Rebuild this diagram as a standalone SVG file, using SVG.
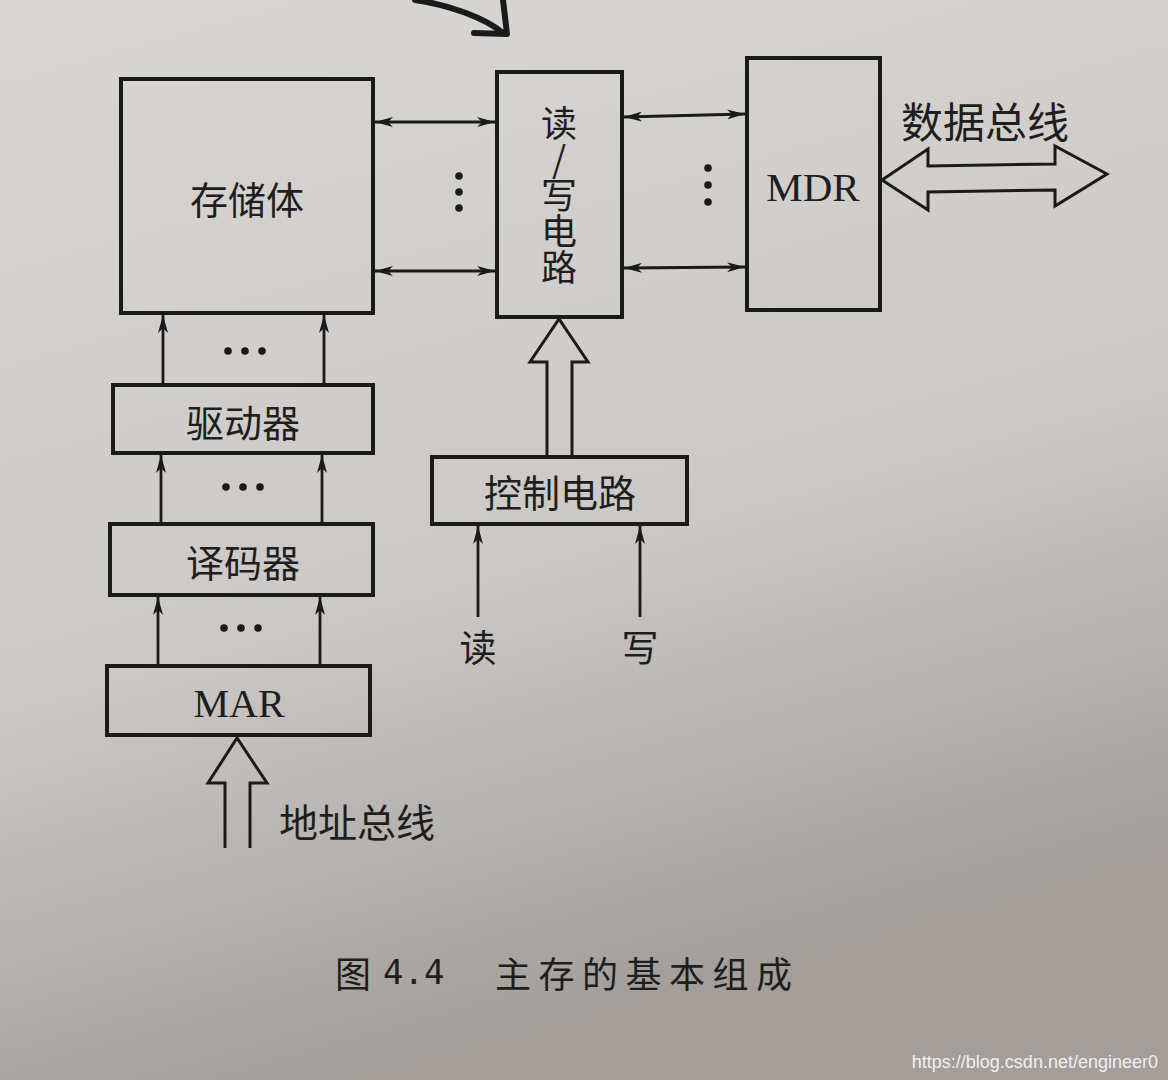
<svg xmlns="http://www.w3.org/2000/svg" width="1168" height="1080" viewBox="0 0 1168 1080">
<defs>
<linearGradient id="bg" x1="0" y1="0" x2="0.3" y2="1">
<stop offset="0" stop-color="#d9d7d4"/>
<stop offset="0.6" stop-color="#cbc8c5"/>
<stop offset="1" stop-color="#a39e9a"/>
</linearGradient>
<marker id="ah" viewBox="0 0 18 10" refX="18" refY="5" markerWidth="18" markerHeight="10" markerUnits="userSpaceOnUse" orient="auto-start-reverse">
<path d="M0,0 L18,5 L0,10 L5,5 Z" fill="#1a1a1a"/>
</marker>
<style>
.box{fill:none;stroke:#1a1a1a;stroke-width:4}
.ln{fill:none;stroke:#1a1a1a;stroke-width:2.8}
.hollow{fill:none;stroke:#1a1a1a;stroke-width:3;stroke-linejoin:miter}
.cn{font-family:"Noto Sans CJK SC","Noto Sans",sans-serif;fill:#1e1e1e;text-anchor:middle;dominant-baseline:central}
.lat{font-family:"Liberation Serif",serif;fill:#1e1e1e;text-anchor:middle;dominant-baseline:central}
.vert{writing-mode:vertical-rl;text-orientation:upright;text-anchor:start}
.dot{fill:#1a1a1a}
</style>
</defs>
<rect width="1168" height="1080" fill="url(#bg)"/>
<path d="M415,0 C450,5 485,18 503,33 M474,33 L507,34 L503,0" fill="none" stroke="#1a1a1a" stroke-width="6" stroke-linecap="round" stroke-linejoin="round"/>

<g id="memory">
<rect class="box" x="121" y="79" width="252" height="234"/>
<text class="cn" x="247" y="197" font-size="38">存储体</text>
</g>
<g id="rw">
<rect class="box" x="497" y="72" width="125" height="245"/>
<text class="cn vert" x="559" y="105" font-size="36">读/写电路</text>
</g>
<g id="mdr">
<rect class="box" x="747" y="58" width="133" height="252"/>
<text class="lat" x="813" y="187" font-size="41">MDR</text>
</g>
<g id="driver">
<rect class="box" x="113" y="385" width="260" height="68"/>
<text class="cn" x="243" y="420" font-size="38">驱动器</text>
</g>
<g id="decoder">
<rect class="box" x="110" y="524" width="263" height="71"/>
<text class="cn" x="243" y="560" font-size="38">译码器</text>
</g>
<g id="mar">
<rect class="box" x="107" y="666" width="263" height="69"/>
<text class="lat" x="239" y="703" font-size="40">MAR</text>
</g>
<g id="control">
<rect class="box" x="432" y="457" width="255" height="67"/>
<text class="cn" x="560" y="490" font-size="38">控制电路</text>
</g>
<g id="labels">
<text class="cn" x="985" y="119" font-size="42">数据总线</text>
<text class="cn" x="357" y="820" font-size="39">地址总线</text>
<text class="cn" x="478" y="646" font-size="37">读</text>
<text class="cn" x="640" y="646" font-size="37">写</text>
<text class="cn" x="335" y="972" font-size="36" style="text-anchor:start">图</text>
<text x="383" y="972" font-size="34" style="font-family:'DejaVu Sans Mono','Liberation Mono',monospace;fill:#1e1e1e;dominant-baseline:central">4.4</text>
<text class="cn" x="495" y="972" font-size="36" letter-spacing="7.5" style="text-anchor:start">主存的基本组成</text>
<text x="1158" y="1062" font-size="18" style="font-family:'Liberation Sans',Arial,sans-serif;fill:#f2f0ee;dominant-baseline:central;text-anchor:end">https://blog.csdn.net/engineer0</text>
</g>

<g id="connectors">
<line class="ln" x1="375" y1="122" x2="495" y2="122" marker-start="url(#ah)" marker-end="url(#ah)"/>
<line class="ln" x1="375" y1="271" x2="495" y2="271" marker-start="url(#ah)" marker-end="url(#ah)"/>
<line class="ln" x1="624" y1="117" x2="745" y2="114" marker-start="url(#ah)" marker-end="url(#ah)"/>
<line class="ln" x1="624" y1="268" x2="745" y2="267" marker-start="url(#ah)" marker-end="url(#ah)"/>
<circle class="dot" cx="459" cy="176" r="3.8"/><circle class="dot" cx="459" cy="192" r="3.8"/><circle class="dot" cx="459" cy="208" r="3.8"/>
<circle class="dot" cx="708" cy="168" r="3.8"/><circle class="dot" cx="708" cy="185" r="3.8"/><circle class="dot" cx="708" cy="202" r="3.8"/>

<line class="ln" x1="163" y1="385" x2="163" y2="315" marker-end="url(#ah)"/>
<line class="ln" x1="324" y1="385" x2="324" y2="315" marker-end="url(#ah)"/>
<circle class="dot" cx="228" cy="351" r="3.8"/><circle class="dot" cx="245" cy="351" r="3.8"/><circle class="dot" cx="262" cy="351" r="3.8"/>

<line class="ln" x1="161" y1="524" x2="161" y2="455" marker-end="url(#ah)"/>
<line class="ln" x1="322" y1="524" x2="322" y2="455" marker-end="url(#ah)"/>
<circle class="dot" cx="226" cy="487" r="3.8"/><circle class="dot" cx="243" cy="487" r="3.8"/><circle class="dot" cx="260" cy="487" r="3.8"/>

<line class="ln" x1="158" y1="666" x2="158" y2="597" marker-end="url(#ah)"/>
<line class="ln" x1="320" y1="666" x2="320" y2="597" marker-end="url(#ah)"/>
<circle class="dot" cx="224" cy="628" r="3.8"/><circle class="dot" cx="241" cy="628" r="3.8"/><circle class="dot" cx="258" cy="628" r="3.8"/>

<line class="ln" x1="478" y1="617" x2="478" y2="526" marker-end="url(#ah)"/>
<line class="ln" x1="640" y1="617" x2="640" y2="526" marker-end="url(#ah)"/>

<path class="hollow" d="M547,457 L547,362 L530,362 L559,319 L588,362 L572,362 L572,457"/>
<path class="hollow" d="M225,848 L225,783 L208,783 L237,738 L267,783 L250,783 L250,848"/>
<path class="hollow" d="M882,180 L928,149 L928,166 L1055,164 L1055,146 L1107,174 L1055,206 L1055,190 L928,192 L928,210 Z"/>
</g>
</svg>
